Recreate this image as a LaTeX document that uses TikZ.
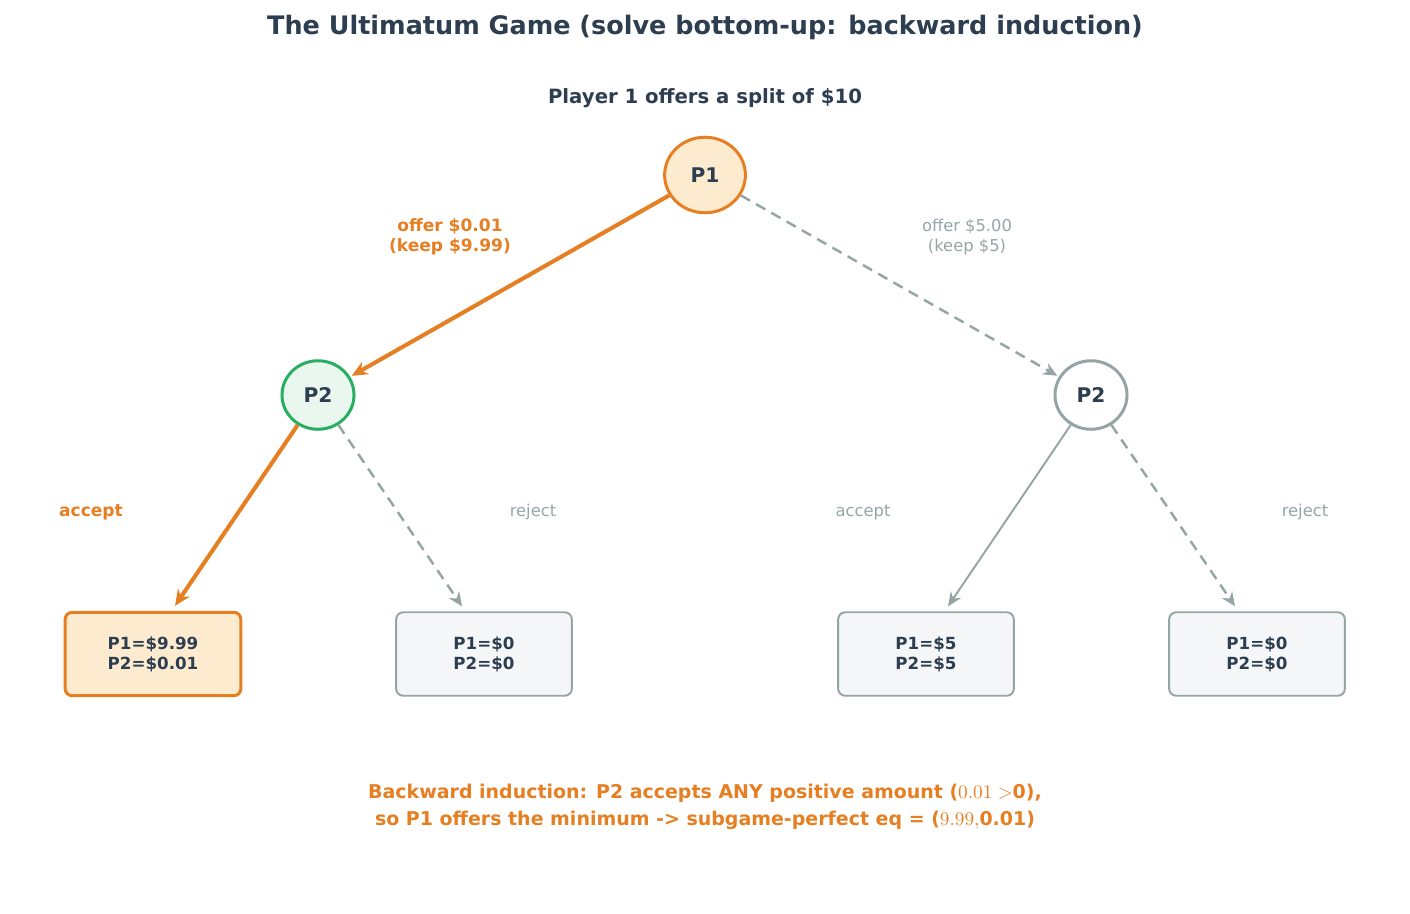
\documentclass[tikz,border=0pt]{standalone}
\usepackage{fontspec}
\setmainfont{DejaVu Sans}
\usetikzlibrary{arrows.meta,shapes,positioning,calc}
\definecolor{ugdark}{HTML}{2C3E50}
\definecolor{ugorange}{HTML}{E67E22}
\definecolor{uggray}{HTML}{95A5A6}
\definecolor{uggreen}{HTML}{27AE60}
\definecolor{ugpeach}{HTML}{FDEBD0}
\definecolor{ugmint}{HTML}{E9F7EF}
\definecolor{ugleaf}{HTML}{F4F6F7}
\tikzset{
  decision/.style={ellipse, line width=1.7pt, minimum width=41pt, minimum height=39pt, inner sep=0pt, font=\fontsize{11.5}{13}\selectfont\bfseries, text=ugdark},
  payoff/.style={rounded corners=4pt, line width=1.1pt, draw=uggray, fill=ugleaf, minimum width=100pt, minimum height=47.5pt, align=center, font=\fontsize{9.5}{11.5}\selectfont\bfseries, text=ugdark},
  chosen/.style={line width=2.3pt, ugorange, -{Stealth[length=9pt,width=8pt]}},
  other/.style={line width=1.4pt, uggray, dash pattern=on 6pt off 4pt, -{Stealth[length=8pt,width=7pt]}},
  moveL/.style={font=\fontsize{9.7}{11.5}\selectfont\bfseries, text=ugorange, align=center},
  moveG/.style={font=\fontsize{9.3}{11.5}\selectfont, text=uggray, align=center}
}
\begin{document}
\begin{tikzpicture}[x=0.02cm, y=-0.02cm]
    \useasboundingbox (0,0) rectangle (1410,913);
    % Titles
    \node[font=\fontsize{14.5}{17}\selectfont\bfseries, text=ugdark] (title) at (705,27) {The Ultimatum Game (solve bottom-up: backward induction)};
    \node[font=\fontsize{11.2}{13}\selectfont\bfseries, text=ugdark] (sub) at (705,98) {Player 1 offers a split of \$10};

    % Decision nodes
    \node[decision, draw=ugorange, fill=ugpeach, minimum width=46pt, minimum height=43pt] (p1) at (705,175) {P1};
    \node[decision, draw=uggreen, fill=ugmint] (p2l) at (318,395) {P2};
    \node[decision, draw=uggray, fill=white] (p2r) at (1091,395) {P2};

    % Outcomes
    \node[payoff, draw=ugorange, fill=ugpeach, line width=1.7pt] (o1) at (153,654) {P1=\$9.99\\P2=\$0.01};
    \node[payoff] (o2) at (484,654) {P1=\$0\\P2=\$0};
    \node[payoff] (o3) at (926,654) {P1=\$5\\P2=\$5};
    \node[payoff] (o4) at (1257,654) {P1=\$0\\P2=\$0};

    % Moves
    \draw[chosen, shorten >=1pt] (p1) -- (p2l);
    \draw[other, shorten >=1pt] (p1) -- (p2r);
    \draw[chosen] (p2l) -- ($(o1.north)+(22,-5)$);
    \draw[other] (p2l) -- ($(o2.north)+(-22,-5)$);
    \draw[uggray, line width=1.1pt, -{Stealth[length=8pt,width=7pt]}] (p2r) -- ($(o3.north)+(22,-5)$);
    \draw[other] (p2r) -- ($(o4.north)+(-22,-5)$);

    % Move labels
    \node[moveL] (offlow) at (450,237) {offer \$0.01\\(keep \$9.99)};
    \node[moveG] (offhalf) at (967,237) {offer \$5.00\\(keep \$5)};
    \node[moveL] (accl) at (91,512) {accept};
    \node[moveG] (rejl) at (533,512) {reject};
    \node[moveG] (accr) at (863,512) {accept};
    \node[moveG] (rejr) at (1305,512) {reject};

    % Conclusion
    \node[font=\fontsize{10.8}{15.5}\selectfont\bfseries, text=ugorange, align=center] (note) at (705,807)
      {Backward induction: P2 accepts ANY positive amount ($0.01>$0),\\so P1 offers the minimum -> subgame-perfect eq = ($9.99,$0.01)};
\end{tikzpicture}
\end{document}
